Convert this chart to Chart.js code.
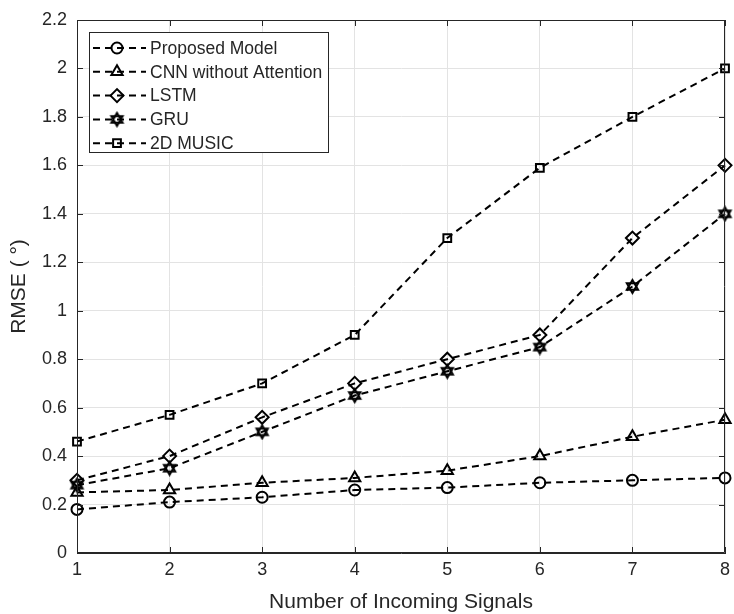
<!DOCTYPE html>
<html>
<head>
<meta charset="utf-8">
<script src="https://cdn.jsdelivr.net/npm/chart.js@4.4.1/dist/chart.umd.min.js"></script>
<style>
  html, body { margin: 0; padding: 0; background: #fff; }
  #wrap { width: 734px; height: 614px; }
</style>
</head>
<body>
<div id="wrap"><canvas id="rmseChart" width="734" height="614"></canvas></div>
<script>
const signals = [1, 2, 3, 4, 5, 6, 7, 8];
const proposed = [0.18, 0.21, 0.23, 0.26, 0.27, 0.29, 0.30, 0.31];
const cnnNoAtt = [0.25, 0.26, 0.29, 0.31, 0.34, 0.40, 0.48, 0.55];
const lstm = [0.30, 0.40, 0.56, 0.70, 0.80, 0.90, 1.30, 1.60];
const gru = [0.28, 0.35, 0.50, 0.65, 0.75, 0.85, 1.10, 1.40];
const music2d = [0.46, 0.57, 0.70, 0.90, 1.30, 1.59, 1.80, 2.00];
const seriesNames = ['Proposed Model', 'CNN without Attention', 'LSTM', 'GRU', '2D MUSIC'];
const xTicks = [1, 2, 3, 4, 5, 6, 7, 8];
const yTicks = [0, 0.2, 0.4, 0.6, 0.8, 1, 1.2, 1.4, 1.6, 1.8, 2, 2.2];

const axisColor = '#262626';
const fontFam = '"Liberation Sans", Arial, Helvetica, sans-serif';

// six pointed star marker (hexagram), MATLAB style
function hexagram(r) {
  const c = document.createElement('canvas');
  const s = Math.ceil(r * 2 + 4);
  c.width = s; c.height = s;
  const g = c.getContext('2d');
  g.strokeStyle = '#000';
  g.lineWidth = 2;
  g.lineJoin = 'miter';
  for (let t = 0; t < 2; t++) {
    g.beginPath();
    for (let k = 0; k < 3; k++) {
      const a = -Math.PI / 2 + t * Math.PI + k * 2 * Math.PI / 3;
      const px = s / 2 + r * Math.cos(a), py = s / 2 + r * Math.sin(a);
      if (k === 0) g.moveTo(px, py); else g.lineTo(px, py);
    }
    g.closePath();
    g.stroke();
  }
  return c;
}

const styles = ['circle', 'triangle', 'rectRot', hexagram(6.5), 'rect'];
const radii = [5.5, 6.5, 6.5, 7, 5.5];
const values = [proposed, cnnNoAtt, lstm, gru, music2d];

const datasets = values.map((v, i) => ({
  label: seriesNames[i],
  data: v.map((y, j) => ({ x: signals[j], y: y })),
  borderColor: '#000',
  backgroundColor: 'rgba(0,0,0,0)',
  borderWidth: 2,
  borderDash: [7, 5],
  pointStyle: styles[i],
  pointRadius: radii[i],
  pointHoverRadius: radii[i],
  pointBorderWidth: 2,
  pointBorderColor: '#000',
  pointBackgroundColor: 'rgba(0,0,0,0)',
  tension: 0,
  clip: false
}));

// box, inward ticks and in-plot legend
const matlabBox = {
  id: 'matlabBox',
  afterDatasetsDraw(chart) {
    const { ctx, chartArea: a, scales } = chart;
    ctx.save();
    ctx.strokeStyle = axisColor;
    ctx.lineWidth = 1;
    ctx.beginPath();
    ctx.rect(a.left + 0.5, a.top + 0.5, a.right - a.left - 1, a.bottom - a.top - 1);
    ctx.stroke();
    const tl = 6;
    ctx.beginPath();
    xTicks.forEach(v => {
      const px = Math.round(scales.x.getPixelForValue(v)) + 0.5;
      ctx.moveTo(px, a.bottom); ctx.lineTo(px, a.bottom - tl);
      ctx.moveTo(px, a.top); ctx.lineTo(px, a.top + tl);
    });
    yTicks.forEach(v => {
      const py = Math.round(scales.y.getPixelForValue(v)) + 0.5;
      ctx.moveTo(a.left, py); ctx.lineTo(a.left + tl, py);
      ctx.moveTo(a.right, py); ctx.lineTo(a.right - tl, py);
    });
    ctx.stroke();

    // legend
    const lx = 89, ly = 32, lw = 239, lh = 120;
    ctx.fillStyle = '#fff';
    ctx.fillRect(lx, ly, lw, lh);
    ctx.strokeStyle = axisColor;
    ctx.strokeRect(lx + 0.5, ly + 0.5, lw, lh);
    chart.data.datasets.forEach((ds, i) => {
      const y = ly + 16 + i * 23.8;
      ctx.strokeStyle = '#000';
      ctx.lineWidth = 2;
      ctx.setLineDash([7, 5]);
      ctx.beginPath();
      ctx.moveTo(93, y); ctx.lineTo(146, y);
      ctx.stroke();
      ctx.setLineDash([]);
      ctx.fillStyle = 'rgba(0,0,0,0)';
      Chart.helpers.drawPoint(ctx, {
        pointStyle: ds.pointStyle, radius: ds.pointRadius, borderWidth: 2, rotation: 0
      }, 117, y);
      ctx.fillStyle = axisColor;
      ctx.font = '17.5px ' + fontFam;
      ctx.textBaseline = 'middle';
      ctx.textAlign = 'left';
      ctx.fillText(ds.label, 150, y + 1);
    });
    ctx.restore();
  }
};

new Chart(document.getElementById('rmseChart'), {
  type: 'line',
  data: { datasets: datasets },
  options: {
    responsive: false,
    animation: false,
    events: [],
    layout: { padding: { left: 0, top: 20, right: 3, bottom: 0 } },
    plugins: { legend: { display: false }, tooltip: { enabled: false } },
    scales: {
      x: {
        type: 'linear',
        min: 1, max: 8,
        afterBuildTicks: s => { s.ticks = xTicks.map(v => ({ value: v })); },
        afterFit: s => { s.height = 61; s.paddingLeft = 0; s.paddingRight = 0; },
        grid: { color: '#e3e3e3', drawTicks: false },
        border: { color: axisColor, width: 1 },
        ticks: { color: axisColor, padding: 6, font: { family: fontFam, size: 18 } },
        title: {
          display: true, text: 'Number of Incoming Signals', color: axisColor,
          font: { family: fontFam, size: 21, lineHeight: 1.1 }, padding: { top: 0, bottom: 0 }
        }
      },
      y: {
        min: 0, max: 2.2,
        afterBuildTicks: s => { s.ticks = yTicks.map(v => ({ value: v })); },
        afterFit: s => { s.width = 77; s.paddingTop = 0; s.paddingBottom = 0; },
        grid: { color: '#e3e3e3', drawTicks: false },
        border: { color: axisColor, width: 1 },
        ticks: {
          color: axisColor, padding: 10, font: { family: fontFam, size: 18 },
          callback: v => String(+v.toFixed(1))
        },
        title: {
          display: true, text: 'RMSE ( °)', color: axisColor,
          font: { family: fontFam, size: 21, lineHeight: 1.1 }, padding: { top: 8, bottom: 0 }
        }
      }
    }
  },
  plugins: [matlabBox]
});
</script>
</body>
</html>
